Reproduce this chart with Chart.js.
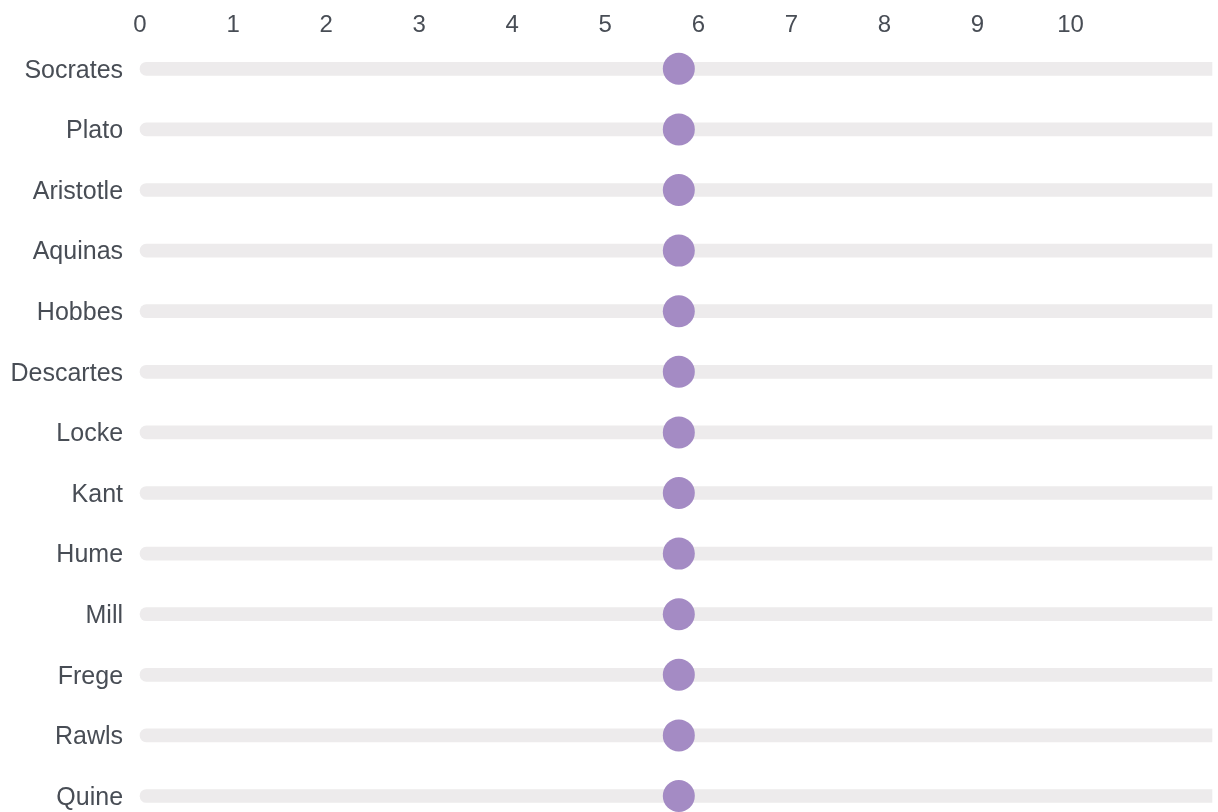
<!DOCTYPE html>
<html>
<head>
<meta charset="utf-8">
<script src="https://cdn.jsdelivr.net/npm/chart.js@4.4.1/dist/chart.umd.min.js"></script>
<style>
  html, body { margin: 0; padding: 0; background: #ffffff; }
  #wrap { width: 1218px; height: 812px; position: relative; }
</style>
</head>
<body>
<div id="wrap"><canvas id="c"></canvas></div>
<script>
const categories = ["Socrates","Plato","Aristotle","Aquinas","Hobbes","Descartes","Locke","Kant","Hume","Mill","Frege","Rawls","Quine"];
const scores = [5.79,5.79,5.79,5.79,5.79,5.79,5.79,5.79,5.79,5.79,5.79,5.79,5.79];
const trackMax = 11.52;
const trackValues = categories.map(() => trackMax);
const xTickLabels = [0,1,2,3,4,5,6,7,8,9,10];

const textColor = '#484d55';
const family = "'Liberation Sans', Arial, sans-serif";

function zeroPad(axis) {
  axis.paddingTop = 0; axis.paddingBottom = 0;
  axis.paddingLeft = 0; axis.paddingRight = 0;
}

new Chart(document.getElementById('c'), {
  type: 'bar',
  data: {
    labels: categories,
    datasets: [
      {
        type: 'line',
        label: 'Score',
        data: scores,
        indexAxis: 'y',
        showLine: false,
        pointRadius: 16,
        pointHoverRadius: 16,
        pointBackgroundColor: '#a48bc4',
        pointBorderWidth: 0,
        borderColor: '#a48bc4',
        order: 0,
        clip: false
      },
      {
        type: 'bar',
        label: 'Track',
        data: trackValues,
        indexAxis: 'y',
        backgroundColor: '#edebec',
        barThickness: 13,
        borderSkipped: false,
        borderRadius: { topLeft: 7, bottomLeft: 7, topRight: 0, bottomRight: 0 },
        order: 1,
        clip: false
      }
    ]
  },
  options: {
    indexAxis: 'y',
    responsive: true,
    maintainAspectRatio: false,
    animation: false,
    layout: { autoPadding: false, padding: { top: 11, right: 6, bottom: 16, left: 10.5 } },
    plugins: { legend: { display: false }, tooltip: { enabled: false } },
    scales: {
      x: {
        type: 'linear',
        position: 'top',
        min: 0,
        max: trackMax,
        grid: { display: false, drawTicks: false },
        border: { display: false },
        afterBuildTicks: (axis) => { axis.ticks = xTickLabels.map(v => ({ value: v })); },
        afterFit: (axis) => { zeroPad(axis); axis.height -= axis.options.ticks.padding; },
        ticks: { color: textColor, font: { family: family, size: 24 }, padding: 29, autoSkip: false, maxRotation: 0 }
      },
      y: {
        type: 'category',
        offset: false,
        grid: { display: false, drawTicks: false },
        border: { display: false },
        afterFit: (axis) => { zeroPad(axis); axis.width -= axis.options.ticks.padding; },
        ticks: { color: textColor, font: { family: family, size: 25 }, padding: 17, labelOffset: 2, autoSkip: false }
      }
    }
  }
});
</script>
</body>
</html>
